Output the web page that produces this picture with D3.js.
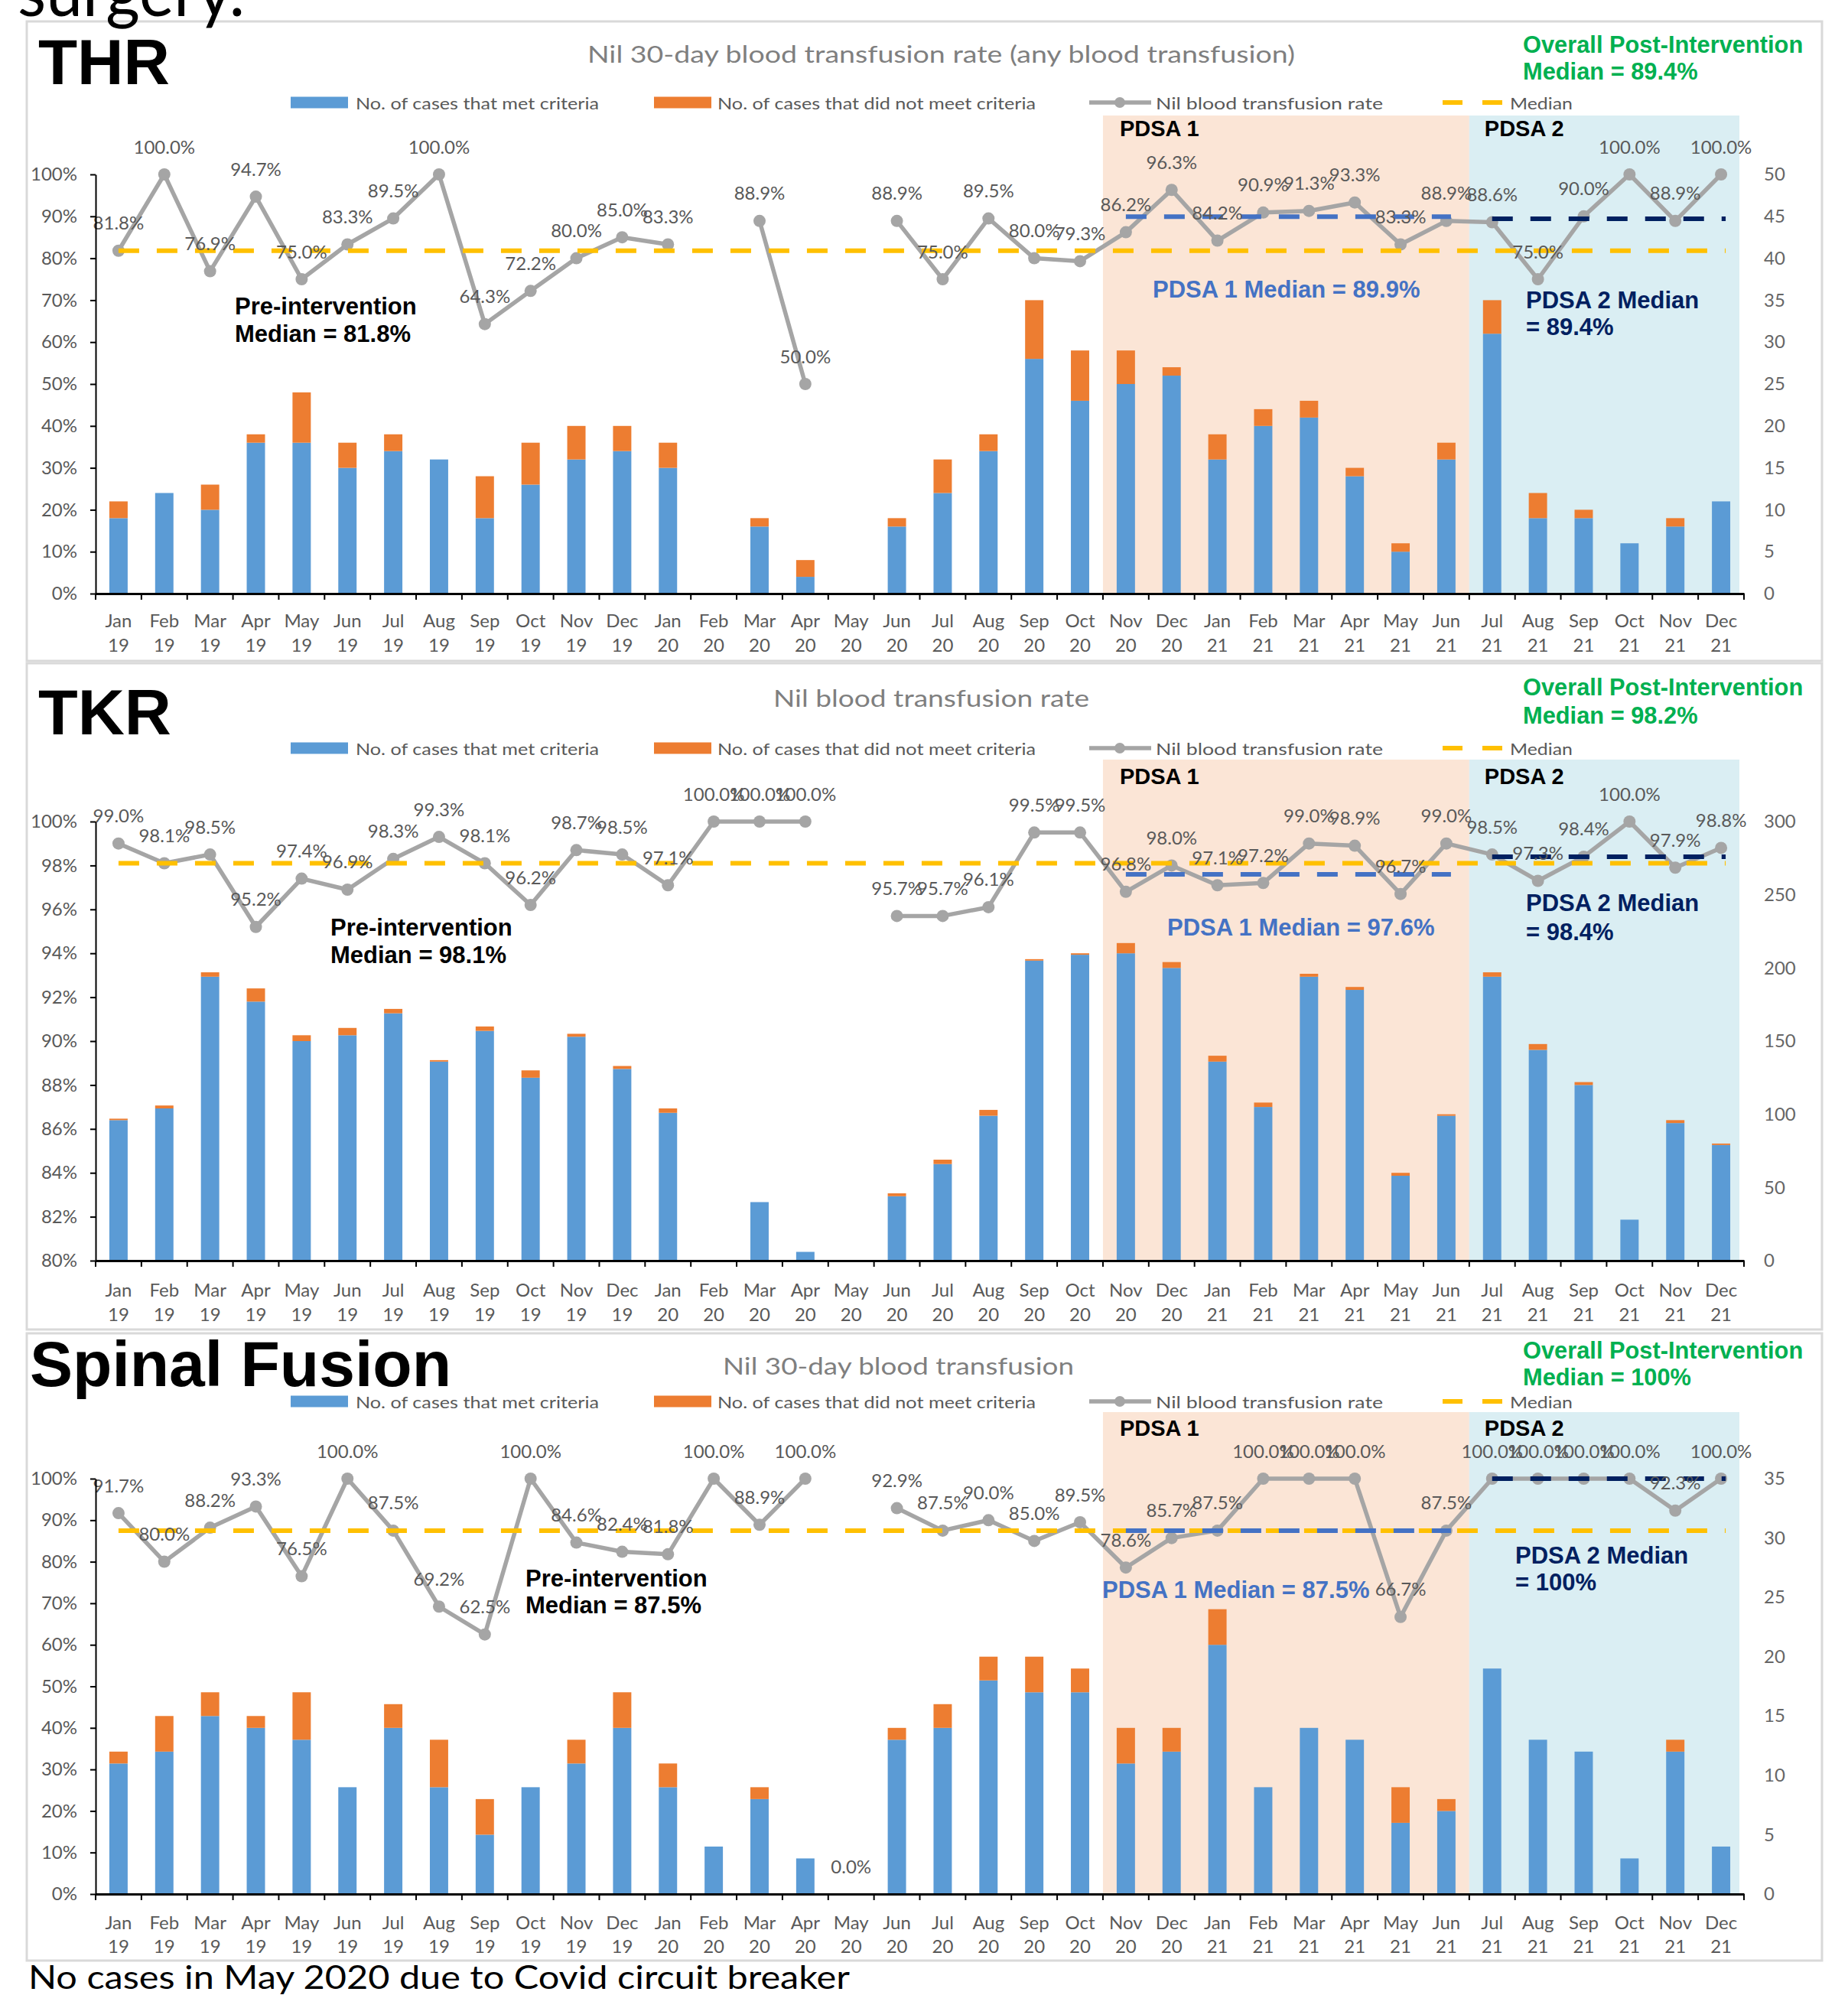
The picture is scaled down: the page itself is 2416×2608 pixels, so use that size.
<!DOCTYPE html>
<html>
<head>
<meta charset="utf-8">
<script src="https://cdn.jsdelivr.net/npm/d3@7"></script>
<style>
  body { margin: 0; background: #fff; }
  text { font-family: Lato, "Open Sans", sans-serif; }
</style>
</head>
<body>
<div id="content"></div>
<script>
// canvas
var width = 2416, height = 2608;

// categories
var months = ["Jan","Feb","Mar","Apr","May","Jun","Jul","Aug","Sep","Oct","Nov","Dec"];
var years = ["19","20","21"];
var labels = [];
years.forEach(function(y) { months.forEach(function(m) { labels.push(m + " " + y); }); });

// THR
var thrMet    = [9,12,10,18,18,15,17,16,9,13,16,17,15,0,8,2,0,8,12,17,28,23,25,26,16,20,21,14,5,16,31,9,9,6,8,11];
var thrNotMet = [2,0,3,1,6,3,2,0,5,5,4,3,3,0,1,2,0,1,4,2,7,6,4,1,3,2,2,1,1,2,4,3,1,0,1,0];
var thrRate   = [81.8,100,76.9,94.7,75.0,83.3,89.5,100,64.3,72.2,80.0,85.0,83.3,null,88.9,50.0,null,
                 88.9,75.0,89.5,80.0,79.3,86.2,96.3,84.2,90.9,91.3,93.3,83.3,88.9,88.6,75.0,90.0,100,88.9,100];
var thrMedian = [81.8, 89.9, 89.4];

// TKR
var tkrMet    = [96,104,194,177,150,154,169,136,157,125,153,131,101,0,40,6,0,44,66,99,205,209,210,200,136,105,194,185,58,99,194,144,120,28,94,79];
var tkrNotMet = [1,2,3,9,4,5,3,1,3,5,2,2,3,0,0,0,0,2,3,4,1,1,7,4,4,3,2,2,2,1,3,4,2,0,2,1];
var tkrRate   = [99.0,98.1,98.5,95.2,97.4,96.9,98.3,99.3,98.1,96.2,98.7,98.5,97.1,100,100,100,null,
                 95.7,95.7,96.1,99.5,99.5,96.8,98.0,97.1,97.2,99.0,98.9,96.7,99.0,98.5,97.3,98.4,100,97.9,98.8];
var tkrMedian = [98.1, 97.6, 98.4];

// Spinal fusion
var spMet    = [11,12,15,14,13,9,14,9,5,9,11,14,9,4,8,3,0,13,14,18,17,17,11,12,21,9,14,13,6,7,19,13,12,3,12,4];
var spNotMet = [1,3,2,1,4,0,2,4,3,0,2,3,2,0,1,0,0,1,2,2,3,2,3,2,3,0,0,0,3,1,0,0,0,0,1,0];
var spRate   = [91.7,80.0,88.2,93.3,76.5,100,87.5,69.2,62.5,100,84.6,82.4,81.8,100,88.9,100,0.0,
                92.9,87.5,90.0,85.0,89.5,78.6,85.7,87.5,100,100,100,66.7,87.5,100,100,100,100,92.3,100];
var spMedian = [87.5, 87.5, 100];

// overall post-intervention medians
var overallMedian = ["89.4%", "98.2%", "100%"];

// periods: pre-intervention median spans the whole chart
var periodStart = ["Jan 19", "Nov 20", "Jul 21"];
var periodEnd   = ["Dec 21", "Jun 21", "Dec 21"];
var medianColors = ["#FFC000", "#4472C4", "#002060"];

var legendNames = ["No. of cases that met criteria", "No. of cases that did not meet criteria",
                   "Nil blood transfusion rate", "Median"];

var svg = d3.select("#content")
  .append("svg")
  .attr("width", width)
  .attr("height", height);

svg.append("rect").attr("width", width).attr("height", height).attr("fill", "white");

var x = d3.scaleBand().domain(labels).range([125, 2280]).paddingInner(0.6).paddingOuter(0.3);
var cx = function(l) { return x(l) + x.bandwidth() / 2; };

var panels = [
  {name: "THR", bigW: 172, title: "Nil 30-day blood transfusion rate (any blood transfusion)", titleX: 768, titleW: 925,
   met: thrMet, notMet: thrNotMet, rate: thrRate, median: thrMedian, overall: overallMedian[0],
   pctMin: 0, pctStep: 10, cntMax: 50, cntStep: 5,
   top: 28, bottom: 864, yBig: 110, yTitle: 70, yLegend: 134, yShade: 151, yPdsa: 168,
   yTop: 228, yBase: 776, yMon: 810, yYr: 842, yOverall: [58, 93],
   pre: [307, 400, 436], p1: [1507, 378], p2: [1995, 392, 427]},
  {name: "TKR", bigW: 174, title: "Nil blood transfusion rate", titleX: 1011, titleW: 413,
   met: tkrMet, notMet: tkrNotMet, rate: tkrRate, median: tkrMedian, overall: overallMedian[1],
   pctMin: 80, pctStep: 2, cntMax: 300, cntStep: 50,
   top: 867, bottom: 1738, yBig: 960, yTitle: 912, yLegend: 978, yShade: 993, yPdsa: 1015,
   yTop: 1074, yBase: 1648, yMon: 1685, yYr: 1717, yOverall: [898, 935],
   pre: [432, 1212, 1248], p1: [1526, 1212], p2: [1995, 1180, 1218]},
  {name: "Spinal Fusion", bigW: 551, title: "Nil 30-day blood transfusion", titleX: 945, titleW: 459,
   met: spMet, notMet: spNotMet, rate: spRate, median: spMedian, overall: overallMedian[2],
   pctMin: 0, pctStep: 10, cntMax: 35, cntStep: 5,
   top: 1743, bottom: 2563, yBig: 1812, yTitle: 1785, yLegend: 1832, yShade: 1846, yPdsa: 1867,
   yTop: 1933, yBase: 2476, yMon: 2512, yYr: 2543, yOverall: [1765, 1800],
   pre: [687, 2063, 2098], p1: [1441, 2078], p2: [1981, 2033, 2068]}
];

function boldText(g, tx, ty, str, color, size) {
  return g.append("text")
    .attr("x", tx).attr("y", ty)
    .attr("dominant-baseline", "central")
    .style("font-family", "'Liberation Sans', Arial, sans-serif")
    .style("font-weight", "bold")
    .attr("font-size", size || 31)
    .attr("fill", color)
    .text(str);
}

function drawPanel(p) {
  var g = svg.append("g").attr("class", "panel");
  var yPct = d3.scaleLinear().domain([p.pctMin, 100]).range([p.yBase, p.yTop]);
  var yCnt = d3.scaleLinear().domain([0, p.cntMax]).range([p.yBase, p.yTop]);
  var rows = labels.map(function(l, i) {
    return {label: l, met: p.met[i], notMet: p.notMet[i], rate: p.rate[i]};
  });
  var step = x.step(), x0 = x.range()[0];

  // chart border
  g.append("rect")
    .attr("x", 35).attr("y", p.top)
    .attr("width", 2347).attr("height", p.bottom - p.top)
    .attr("fill", "none").attr("stroke", "#D9D9D9").attr("stroke-width", 3);

  // PDSA shading
  var i1 = labels.indexOf(periodStart[1]), i2 = labels.indexOf(periodStart[2]);
  g.append("rect")
    .attr("x", x0 + i1 * step).attr("y", p.yShade)
    .attr("width", (i2 - i1) * step).attr("height", p.yBase - p.yShade)
    .attr("fill", "#FBE5D6");
  g.append("rect")
    .attr("x", x0 + i2 * step).attr("y", p.yShade)
    .attr("width", (labels.length - i2) * step - 6).attr("height", p.yBase - p.yShade)
    .attr("fill", "#DAEEF3");

  // stacked bars
  var stacked = d3.stack().keys(["met", "notMet"])(rows);
  var barColors = ["#5B9BD5", "#ED7D31"];
  g.selectAll(".series")
    .data(stacked)
    .join("g")
      .attr("fill", function(d, i) { return barColors[i]; })
    .selectAll("rect")
    .data(function(d) { return d.filter(function(e) { return e[1] > e[0]; }); })
    .join("rect")
      .attr("x", function(d) { return x(d.data.label); })
      .attr("width", x.bandwidth())
      .attr("y", function(d) { return yCnt(d[1]); })
      .attr("height", function(d) { return yCnt(d[0]) - yCnt(d[1]); });

  // rate line
  var line = d3.line()
    .defined(function(d) { return d.rate !== null && d.rate > 0; })
    .x(function(d) { return cx(d.label); })
    .y(function(d) { return yPct(d.rate); });

  g.append("path")
    .datum(rows)
    .attr("d", line)
    .attr("fill", "none")
    .attr("stroke", "#A5A5A5")
    .attr("stroke-width", 5.5)
    .attr("stroke-linejoin", "round");

  g.selectAll(".marker")
    .data(rows.filter(function(d) { return d.rate !== null && d.rate > 0; }))
    .join("circle")
      .attr("cx", function(d) { return cx(d.label); })
      .attr("cy", function(d) { return yPct(d.rate); })
      .attr("r", 8)
      .attr("fill", "#A5A5A5");

  // medians
  p.median.forEach(function(m, k) {
    g.append("line")
      .attr("x1", cx(periodStart[k])).attr("x2", cx(periodEnd[k]) + 6)
      .attr("y1", yPct(m)).attr("y2", yPct(m))
      .attr("stroke", medianColors[k])
      .attr("stroke-width", 6)
      .attr("stroke-dasharray", "27,23");
  });

  // data labels
  g.selectAll(".rateLabel")
    .data(rows.filter(function(d) { return d.rate !== null; }))
    .join("text")
      .attr("x", function(d) { return cx(d.label); })
      .attr("y", function(d) { return yPct(Math.max(d.rate, p.pctMin)) - 37; })
      .attr("text-anchor", "middle")
      .attr("dominant-baseline", "central")
      .attr("font-size", 24)
      .attr("fill", "#595959")
      .text(function(d) { return d3.format(".1f")(d.rate) + "%"; });

  // x axis
  var xAxis = g.append("g")
    .attr("transform", "translate(0," + p.yBase + ")")
    .call(d3.axisBottom(x).tickSize(0).tickSizeOuter(0).tickFormat(""));
  xAxis.select(".domain").attr("stroke", "#000").attr("stroke-width", 3);
  xAxis.selectAll(".tick").each(function(d) {
    var parts = d.split(" ");
    var t = d3.select(this);
    t.append("text").attr("y", p.yMon - p.yBase).text(parts[0]);
    t.append("text").attr("y", p.yYr - p.yBase).text(parts[1]);
    t.selectAll("text")
      .attr("text-anchor", "middle")
      .attr("dominant-baseline", "central")
      .attr("font-size", 24)
      .attr("fill", "#595959");
  });
  g.selectAll(".btick")
    .data(d3.range(labels.length + 1))
    .join("line")
      .attr("x1", function(i) { return x0 + i * step; })
      .attr("x2", function(i) { return x0 + i * step; })
      .attr("y1", p.yBase).attr("y2", p.yBase + 8)
      .attr("stroke", "#000").attr("stroke-width", 2);

  // left axis
  var left = g.append("g")
    .attr("transform", "translate(" + x0 + ",0)")
    .call(d3.axisLeft(yPct)
      .tickValues(d3.range(p.pctMin, 100.01, p.pctStep))
      .tickSize(7).tickSizeOuter(0).tickPadding(17)
      .tickFormat(function(d) { return d + "%"; }));
  left.select(".domain").attr("stroke", "#000").attr("stroke-width", 2);
  left.selectAll(".tick line").attr("stroke", "#000").attr("stroke-width", 2);
  left.selectAll(".tick text")
    .attr("font-size", 24).attr("fill", "#595959")
    .style("font-family", "Lato, sans-serif");

  // right axis
  var right = g.append("g")
    .attr("transform", "translate(" + x.range()[1] + ",0)")
    .call(d3.axisRight(yCnt)
      .tickValues(d3.range(0, p.cntMax + 0.01, p.cntStep))
      .tickSize(0).tickPadding(26));
  right.select(".domain").remove();
  right.selectAll(".tick text")
    .attr("font-size", 24).attr("fill", "#666")
    .style("font-family", "Lato, sans-serif");

  // title
  g.append("text")
    .attr("x", p.titleX).attr("y", p.yTitle)
    .attr("dominant-baseline", "central")
    .attr("font-size", 31)
    .attr("fill", "#7F7F7F")
    .attr("textLength", p.titleW).attr("lengthAdjust", "spacingAndGlyphs")
    .text(p.title);

  // legend
  var ly = p.yLegend;
  g.append("rect").attr("x", 380).attr("y", ly - 7.5).attr("width", 75).attr("height", 15).attr("fill", "#5B9BD5");
  g.append("rect").attr("x", 855).attr("y", ly - 7.5).attr("width", 75).attr("height", 15).attr("fill", "#ED7D31");
  g.append("line").attr("x1", 1424).attr("x2", 1505).attr("y1", ly).attr("y2", ly)
    .attr("stroke", "#A5A5A5").attr("stroke-width", 5.5);
  g.append("circle").attr("cx", 1464).attr("cy", ly).attr("r", 7).attr("fill", "#A5A5A5");
  g.append("line").attr("x1", 1886).attr("x2", 1965).attr("y1", ly).attr("y2", ly)
    .attr("stroke", "#FFC000").attr("stroke-width", 6).attr("stroke-dasharray", "26,26");
  var legX = [465, 938, 1511, 1974], legW = [318, 416, 297, 82];
  g.selectAll(".legText")
    .data(legendNames)
    .join("text")
      .attr("x", function(d, i) { return legX[i]; })
      .attr("y", ly)
      .attr("dominant-baseline", "central")
      .attr("font-size", 21)
      .attr("fill", "#595959")
      .attr("textLength", function(d, i) { return legW[i]; })
      .attr("lengthAdjust", "spacingAndGlyphs")
      .text(function(d) { return d; });

  // PDSA headers
  boldText(g, x0 + i1 * step + 22, p.yPdsa, "PDSA 1", "#000", 29);
  boldText(g, x0 + i2 * step + 20, p.yPdsa, "PDSA 2", "#000", 29);

  // median annotations
  boldText(g, p.pre[0], p.pre[1], "Pre-intervention", "#000");
  boldText(g, p.pre[0], p.pre[2], "Median = " + p.median[0] + "%", "#000");
  boldText(g, p.p1[0], p.p1[1], "PDSA 1 Median = " + p.median[1] + "%", "#4472C4");
  boldText(g, p.p2[0], p.p2[1], "PDSA 2 Median", "#002060");
  boldText(g, p.p2[0], p.p2[2], "= " + p.median[2] + "%", "#002060");

  boldText(g, 1991, p.yOverall[0], "Overall Post-Intervention", "#00B050", 30.8);
  boldText(g, 1991, p.yOverall[1], "Median = " + p.overall, "#00B050", 30.8);

  // big surgery label
  g.append("text")
    .attr("x", p.name === "Spinal Fusion" ? 39 : 50)
    .attr("y", p.yBig)
    .style("font-family", "'Liberation Sans', Arial, sans-serif")
    .style("font-weight", "bold")
    .attr("font-size", 84)
    .attr("fill", "#000")
    .attr("textLength", p.bigW).attr("lengthAdjust", "spacingAndGlyphs")
    .text(p.name);
}

panels.forEach(drawPanel);

// cut-off heading at the top and footnote
svg.append("text")
  .attr("x", 23).attr("y", 21)
  .attr("font-size", 90)
  .attr("fill", "#000")
  .attr("textLength", 297).attr("lengthAdjust", "spacingAndGlyphs")
  .text("surgery.");

svg.append("text")
  .attr("x", 37).attr("y", 2600)
  .attr("font-size", 42)
  .attr("fill", "#000")
  .attr("textLength", 1074).attr("lengthAdjust", "spacingAndGlyphs")
  .text("No cases in May 2020 due to Covid circuit breaker");
</script>
</body>
</html>
